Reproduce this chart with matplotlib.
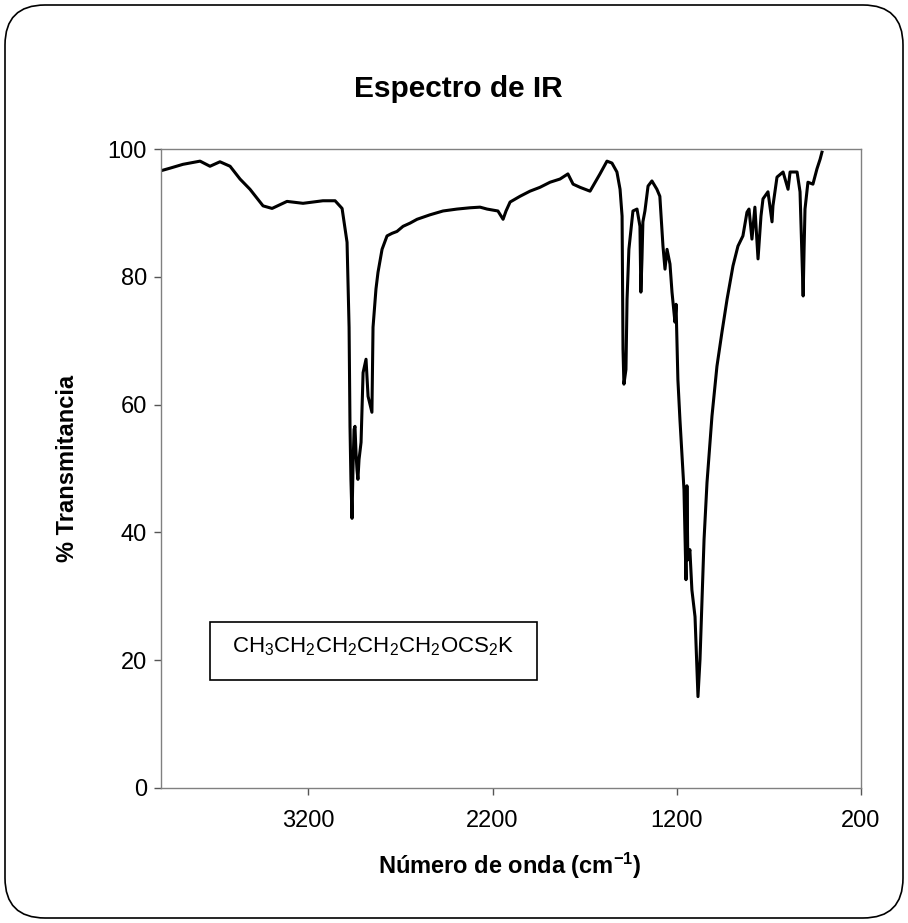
import matplotlib
matplotlib.use("Agg")
import matplotlib.pyplot as plt
from matplotlib.patches import FancyBboxPatch, Rectangle

plt.rcParams['font.family'] = ['Liberation Sans', 'DejaVu Sans']
plt.rcParams['mathtext.fontset'] = 'custom'
plt.rcParams['mathtext.rm'] = 'Liberation Sans'
plt.rcParams['mathtext.bf'] = 'Liberation Sans:bold'
plt.rcParams['mathtext.it'] = 'Liberation Sans:italic'

# espectro (numero de onda cm-1, % transmitancia)
numero_onda = [4000, 3951, 3881, 3788, 3734, 3680, 3625, 3571, 3517, 3446,
               3397, 3316, 3229, 3121, 3055, 3017, 2990, 2979, 2974, 2969,
               2963, 2958, 2952, 2947, 2941, 2936, 2931, 2925, 2914, 2903,
               2887, 2876, 2855, 2849, 2833, 2822, 2800, 2773, 2746, 2719,
               2686, 2648, 2610, 2540, 2469, 2393, 2323, 2268, 2230, 2171,
               2143, 2127, 2105, 2051, 1997, 1943, 1888, 1834, 1791, 1763,
               1725, 1671, 1617, 1579, 1552, 1525, 1508, 1497, 1492, 1487,
               1476, 1470, 1460, 1438, 1416, 1400, 1395, 1389, 1384, 1373,
               1356, 1335, 1308, 1292, 1275, 1264, 1253, 1237, 1226, 1210,
               1204, 1194, 1183, 1167, 1161, 1150, 1145, 1140, 1129, 1118,
               1101, 1090, 1085, 1074, 1063, 1052, 1036, 1009, 982, 955,
               927, 895, 868, 841, 819, 808, 792, 776, 759, 743,
               732, 705, 683, 678, 656, 623, 596, 585, 547, 531,
               520, 514, 509, 504, 488, 461, 439, 422, 412]
transmitancia = [96.6, 97.0, 97.6, 98.1, 97.3, 98.0, 97.3, 95.3, 93.7, 91.1,
                 90.7, 91.8, 91.5, 91.9, 91.9, 90.7, 85.4, 72.1, 56.6, 48.3,
                 42.2, 49.8, 56.1, 56.6, 52.2, 49.8, 48.3, 51.4, 54.1, 65.0,
                 67.1, 61.3, 58.8, 72.1, 78.1, 80.7, 84.3, 86.4, 86.8, 87.1,
                 87.9, 88.4, 89.0, 89.7, 90.3, 90.6, 90.8, 90.9, 90.6, 90.3,
                 89.0, 90.3, 91.7, 92.6, 93.4, 94.0, 94.8, 95.3, 96.1, 94.5,
                 94.0, 93.4, 96.1, 98.1, 97.8, 96.4, 93.7, 89.5, 68.7, 63.2,
                 65.5, 76.5, 84.3, 90.3, 90.6, 87.9, 77.6, 82.8, 88.6, 90.3,
                 94.2, 95.0, 93.7, 92.6, 84.8, 81.2, 84.3, 82.0, 77.6, 72.9,
                 75.7, 63.9, 57.7, 49.8, 46.7, 32.6, 47.3, 35.7, 37.3, 31.0,
                 26.8, 18.5, 14.3, 20.1, 29.5, 38.9, 47.8, 58.2, 66.0, 71.3,
                 76.5, 81.7, 84.8, 86.4, 90.1, 90.6, 85.9, 90.9, 82.8, 89.5,
                 92.2, 93.3, 88.6, 91.1, 95.6, 96.4, 93.7, 96.4, 96.4, 93.3,
                 82.8, 77.0, 84.3, 90.6, 94.8, 94.5, 96.9, 98.4, 99.5]

x_ticks = [3200, 2200, 1200, 200]
y_ticks = [0, 20, 40, 60, 80, 100]

W, H = 908, 923
fig = plt.figure(figsize=(W / 100, H / 100), dpi=100)
ax = fig.add_axes([161 / W, 1 - 788 / H, 700 / W, 639 / H])

ax.plot(numero_onda, transmitancia, color='black', lw=2.2)

ax.set_xlim(4000, 200)
ax.set_ylim(0, 100)
ax.set_xticks(x_ticks)
ax.set_yticks(y_ticks)
ax.tick_params(axis='both', direction='out', length=5, width=1, color='#555555',
               labelsize=17)
ax.tick_params(axis='x', pad=11)
ax.tick_params(axis='y', pad=5)
for s in ax.spines.values():
    s.set_color('#808080')
    s.set_linewidth(1)

# cuadro con la formula
ax.add_patch(Rectangle((0.07, 0.169), 0.467, 0.091, transform=ax.transAxes,
                       fill=False, ec='black', lw=1.2))
ax.text(0.3035, 0.2128,
        r'CH$_3$CH$_2$CH$_2$CH$_2$CH$_2$OCS$_2$K',
        transform=ax.transAxes, ha='center', va='baseline', fontsize=16)

fig.text(458 / W, 1 - 97 / H, 'Espectro de IR', ha='center', va='baseline',
         fontsize=21.5, fontweight='bold')
fig.text(68 / W, 1 - 468 / H, '% Transmitancia', rotation=90, ha='center',
         va='center', fontsize=17, fontweight='bold')
fig.text(510 / W, 1 - 866 / H, r'Número de onda (cm$^{\mathbf{-1}}$)',
         ha='center', va='center', fontsize=17, fontweight='bold')

# marco redondeado del grafico
fig.patches.append(FancyBboxPatch((0.05, 0.05), W / 100 - 0.1, H / 100 - 0.1,
                                  boxstyle='round,pad=0,rounding_size=0.4',
                                  transform=fig.dpi_scale_trans, fill=False,
                                  ec='black', lw=1.2))

fig.savefig('out.png', dpi=100)
